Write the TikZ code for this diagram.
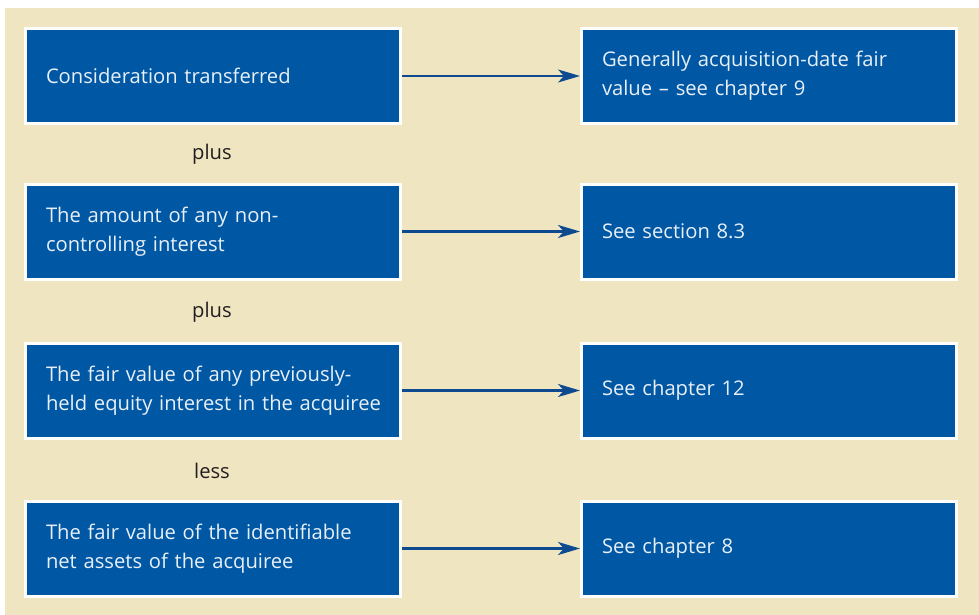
\documentclass[tikz,border=0pt]{standalone}
\usepackage{fontspec}
\setmainfont{Open Sans}
\usetikzlibrary{arrows.meta}
\definecolor{paper}{HTML}{EFE5C1}
\definecolor{boxblue}{HTML}{0058A5}
\definecolor{arrowblue}{HTML}{0D4A8F}
\definecolor{boxtext}{HTML}{E8EFF7}
\definecolor{labeltext}{HTML}{231F20}
\hyphenpenalty=10000
\hbadness=10000
\hfuzz=40pt
\begin{document}
\begin{tikzpicture}[x=1pt,y=-1pt,
  infobox/.style={draw=white, line width=3pt, fill=boxblue, text=boxtext,
    minimum width=375pt, minimum height=95pt, inner xsep=20.5pt, inner ysep=0pt,
    text width=334pt, align=left,
    font=\fontsize{20.2pt}{29pt}\selectfont},
  joiner/.style={text=labeltext, font=\fontsize{20.2pt}{29pt}\selectfont},
  link/.style={draw=arrowblue, line width=2.5pt,
    -{Stealth[length=22pt, width=13pt, inset=6pt]}}]
  \useasboundingbox (0,0) rectangle (979,615);
  \fill[white] (0,0) rectangle (979,615);
  \fill[paper] (5,8) rectangle (979,615);

  % left column
  \node[infobox] (l1) at (213,76) {Consideration transferred};
  \node[infobox] (l2) at (213,231.5) {The amount of any non-\\controlling interest};
  \node[infobox] (l3) at (213,390.5) {The fair value of any previously-\\\mbox{held equity interest in the acquiree}};
  \node[infobox] (l4) at (213,548.5) {The fair value of the identifiable\\net assets of the acquiree};

  % right column
  \node[infobox] (r1) at (769,76) {Generally acquisition-date fair\\value -- see chapter 9};
  \node[infobox] (r2) at (769,231.5) {See section 8.3};
  \node[infobox] (r3) at (769,390.5) {See chapter 12};
  \node[infobox] (r4) at (769,548.5) {See chapter 8};

  % operators between the rows
  \node[joiner] (op1) at (212,154) {plus};
  \node[joiner] (op2) at (212,312.5) {plus};
  \node[joiner] (op3) at (212,471) {less};

  % connectors
  \draw[link] (l1.east) -- (r1.west);
  \draw[link] (l2.east) -- (r2.west);
  \draw[link] (l3.east) -- (r3.west);
  \draw[link] (l4.east) -- (r4.west);
\end{tikzpicture}
\end{document}
